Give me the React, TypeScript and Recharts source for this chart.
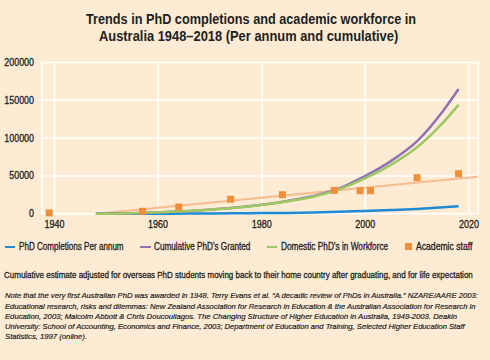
import React, { useLayoutEffect, useRef, useState } from "react";
import {
  ComposedChart,
  Line,
  Scatter,
  XAxis,
  YAxis,
  CartesianGrid,
} from "recharts";

// PhD series (years shared by the three lines)
const years = [1948, 1955, 1960, 1965, 1970, 1975, 1980, 1985, 1990, 1995, 2000, 2005, 2010, 2015, 2018];
const completions = [0, 50, 150, 300, 500, 700, 900, 1200, 1700, 2600, 3800, 5000, 6500, 8500, 10000];
const cumulative = [0, 800, 2000, 3500, 5500, 8200, 12000, 17000, 23500, 33500, 50000, 70000, 96000, 136000, 165000];
const workforce = [0, 800, 2000, 3500, 5500, 8000, 11600, 16500, 22600, 32500, 47000, 65000, 88000, 120500, 144000];

// Academic staff points + trend
const staffYears = [1939, 1957, 1964, 1974, 1984, 1994, 1999, 2001, 2010, 2018];
const staffValues = [1200, 3300, 9000, 19200, 25200, 31000, 30500, 30500, 47700, 53000];
const trendYears = [1948, 2021.7];
const trendValues = [0, 49000];

const xTicks = [1940, 1960, 1980, 2000, 2020];
const yTicks = [0, 50000, 100000, 150000, 200000];

const FONT = "'Liberation Sans', Arial, sans-serif";
const BG = "#fdebd3";
const INK = "#1e1e1e";
const BLUE = "#1f8ad6";
const PURPLE = "#8d72b6";
const GREEN = "#9dc862";
const ORANGE = "#ee8f3c";
const TREND = "#f7bc90";

const phdRows = years.map((year, i) => ({
  year,
  completions: completions[i],
  cumulative: cumulative[i],
  workforce: workforce[i],
}));
const staffRows = staffYears.map((year, i) => ({ year, staff: staffValues[i] }));
const trendRows = trendYears.map((year, i) => ({ year, trend: trendValues[i] }));

// the original uses a condensed face, so squeeze text to its measured width
function Fit({ w, style, children }: { w: number; style?: React.CSSProperties; children: React.ReactNode }) {
  const ref = useRef<HTMLSpanElement>(null);
  const [s, setS] = useState(1);
  useLayoutEffect(() => {
    if (ref.current) setS(w / ref.current.offsetWidth);
  }, [w]);
  return (
    <span
      ref={ref}
      style={{
        position: "absolute",
        whiteSpace: "nowrap",
        transform: `scaleX(${s})`,
        transformOrigin: "left top",
        WebkitTextStroke: "0.3px " + INK,
        ...style,
      }}
    >
      {children}
    </span>
  );
}

const YTick = ({ x, y, payload }: any) => {
  const t = String(payload.value);
  return (
    <text x={x} y={y} dy="0.35em" textAnchor="end" fontSize={10} fontFamily={FONT} fill={INK}
      stroke={INK} strokeWidth={0.3}
      textLength={t.length * 4.95} lengthAdjust="spacingAndGlyphs">
      {t}
    </text>
  );
};

const XTick = ({ x, y, payload }: any) => {
  const t = String(payload.value);
  return (
    <text x={x} y={y} dy="0.71em" textAnchor="middle" fontSize={10} fontFamily={FONT} fill={INK}
      stroke={INK} strokeWidth={0.3}
      textLength={t.length * 5} lengthAdjust="spacingAndGlyphs">
      {t}
    </text>
  );
};

const Square = (props: any) => (
  <rect x={props.cx - 3.5} y={props.cy - 3.5} width={7} height={7} fill={ORANGE} />
);

const legend = [
  { label: "PhD Completions Per annum", color: BLUE, x: 4.5, tx: 19, w: 105, line: true },
  { label: "Cumulative PhD's Granted", color: PURPLE, x: 140, tx: 153.7, w: 96.3, line: true },
  { label: "Domestic PhD's in Workforce", color: GREEN, x: 266.5, tx: 280.7, w: 107.6, line: true },
  { label: "Academic staff", color: ORANGE, x: 405, tx: 415.7, w: 56, line: false },
];

const noteLines = [
  "Note that the very first Australian PhD was awarded in 1948. Terry Evans et al. \u201CA decadic review of PhDs in Australia.\u201D NZARE/AARE 2003:",
  "Educational research, risks and dilemmas: New Zealand Association for Research in Education & the Australian Association for Research in",
  "Education, 2003; Malcolm Abbott & Chris Doucouliagos. The Changing Structure of Higher Education in Australia, 1949-2003. Deakin",
  "University: School of Accounting, Economics and Finance, 2003; Department of Education and Training, Selected Higher Education Staff",
  "Statistics, 1997 (online).",
];
const noteWidths = [472.3, 470, 452.3, 459.3, 81.7];

export default function App() {
  return (
    <div
      style={{
        position: "absolute",
        left: 0,
        top: 0,
        width: 490,
        height: 360,
        background: BG,
        fontFamily: FONT,
        color: INK,
        overflow: "hidden",
      }}
    >
      {/* Title */}
      <Fit w={330} style={{ left: 86, top: 10.7, fontSize: 14, lineHeight: "17.4px", fontWeight: 700, WebkitTextStroke: "0" }}>
        Trends in PhD completions and academic workforce in
      </Fit>
      <Fit w={299} style={{ left: 99.3, top: 28.1, fontSize: 14, lineHeight: "17.4px", fontWeight: 700, WebkitTextStroke: "0" }}>
        Australia 1948–2018 (Per annum and cumulative)
      </Fit>

      <div style={{ position: "absolute", left: 0, top: 0 }}>
        <ComposedChart width={490} height={235} margin={{ top: 62.5, right: 12, left: 0, bottom: 0 }}>
          <CartesianGrid stroke="#ffffff" strokeWidth={1.5} />
          <XAxis
            dataKey="year"
            type="number"
            domain={[1937.6, 2021.75]}
            ticks={xTicks}
            allowDataOverflow
            axisLine={false}
            tickLine={false}
            tick={<XTick />}
            height={21.2}
            tickSize={5}
          />
          <YAxis
            type="number"
            domain={[0, 200000]}
            ticks={yTicks}
            axisLine={false}
            tickLine={false}
            tick={<YTick />}
            width={42}
          />
          <Line
            data={trendRows}
            dataKey="trend"
            type="linear"
            stroke={TREND}
            strokeWidth={2}
            dot={false}
            activeDot={false}
            isAnimationActive={false}
          />
          <Line
            data={phdRows}
            dataKey="completions"
            type="monotone"
            stroke={BLUE}
            strokeWidth={2.5}
            dot={false}
            activeDot={false}
            isAnimationActive={false}
          />
          <Line
            data={phdRows}
            dataKey="cumulative"
            type="monotone"
            stroke={PURPLE}
            strokeWidth={2.5}
            dot={false}
            activeDot={false}
            isAnimationActive={false}
          />
          <Line
            data={phdRows}
            dataKey="workforce"
            type="monotone"
            stroke={GREEN}
            strokeWidth={2.5}
            dot={false}
            activeDot={false}
            isAnimationActive={false}
          />
          <Scatter data={staffRows} dataKey="staff" shape={Square} isAnimationActive={false} />
        </ComposedChart>
      </div>

      {/* Legend */}
      {legend.map((l) => (
        <React.Fragment key={l.label}>
          <div
            style={{
              position: "absolute",
              left: l.x,
              top: l.line ? 245.8 : 243.3,
              width: l.line ? 10.5 : 7,
              height: l.line ? 2.6 : 7,
              background: l.color,
            }}
          />
          <Fit w={l.w} style={{ left: l.tx, top: 240.5, fontSize: 10, lineHeight: "12px" }}>
            {l.label}
          </Fit>
        </React.Fragment>
      ))}

      <Fit w={468.7} style={{ left: 4, top: 268.7, fontSize: 9.5, lineHeight: "12px" }}>
        Cumulative estimate adjusted for overseas PhD students moving back to their home country after graduating, and for life expectation
      </Fit>

      {noteLines.map((t, i) => (
        <Fit
          key={t}
          w={noteWidths[i]}
          style={{ left: 5, top: 291.4 + i * 10.2, fontSize: 8, lineHeight: "10.2px", fontStyle: "italic", WebkitTextStroke: "0.2px " + INK }}
        >
          {t}
        </Fit>
      ))}
    </div>
  );
}
